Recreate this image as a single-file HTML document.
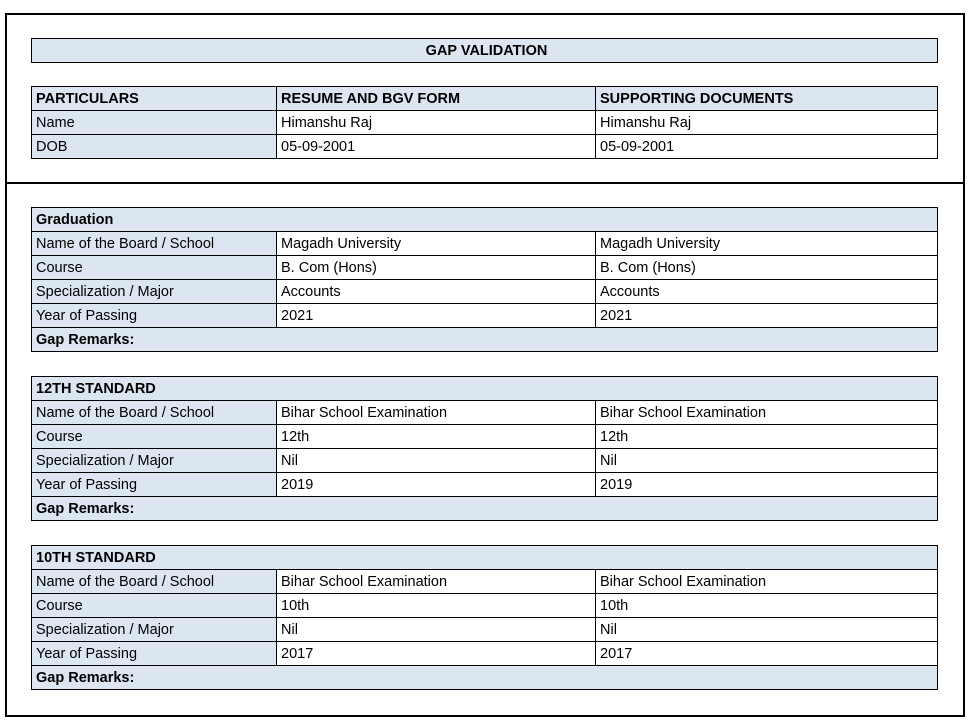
<!DOCTYPE html>
<html><head><style>
body{margin:0;width:971px;height:721px;background:#fff;position:relative;font-family:"Liberation Sans",sans-serif;font-size:14.5px;color:#000;overflow:hidden}
.b{position:absolute;box-sizing:border-box}
.c{position:absolute;box-sizing:border-box;border:1px solid #000;padding-left:4px;line-height:25px;white-space:nowrap;overflow:hidden}
.bl{background:#dce6f1}
.bo{font-weight:bold}
</style></head><body>
<div class="b" style="left:5px;top:13px;width:960px;height:704px;border:2px solid #000"></div>
<div class="b" style="left:5px;top:182px;width:960px;height:2px;background:#000"></div>
<div class="c bl bo" style="left:31px;top:38px;width:907px;height:25px;text-align:center;line-height:24px">GAP VALIDATION</div>
<div id="t"></div>
<script>
var h='';
function row(y,a,b,c,bold,full){
 var H=25;
 if(full){h+='<div class="c bl bo" style="left:31px;top:'+y+'px;width:907px;height:'+H+'px">'+a+'</div>';return;}
 var cls=bold?' bo':'';
 h+='<div class="c bl'+cls+'" style="left:31px;top:'+y+'px;width:246px;height:'+H+'px">'+a+'</div>';
 h+='<div class="c'+(bold?' bl bo':'')+'" style="left:276px;top:'+y+'px;width:320px;height:'+H+'px">'+b+'</div>';
 h+='<div class="c'+(bold?' bl bo':'')+'" style="left:595px;top:'+y+'px;width:343px;height:'+H+'px">'+c+'</div>';
}
row(86,'PARTICULARS','RESUME AND BGV FORM','SUPPORTING DOCUMENTS',true);
row(110,'Name','Himanshu Raj','Himanshu Raj');
row(134,'DOB','05-09-2001','05-09-2001');
var S=[[207,'Graduation','Magadh University','B. Com (Hons)','Accounts','2021'],
[376,'12TH STANDARD','Bihar School Examination','12th','Nil','2019'],
[545,'10TH STANDARD','Bihar School Examination','10th','Nil','2017']];
S.forEach(function(s){
 var y=s[0],d=24;
 row(y,s[1],'','',false,true);
 row(y+d,'Name of the Board / School',s[2],s[2]);
 row(y+2*d,'Course',s[3],s[3]);
 row(y+3*d,'Specialization / Major',s[4],s[4]);
 row(y+4*d,'Year of Passing',s[5],s[5]);
 row(y+5*d,'Gap Remarks:','','',false,true);
});
document.getElementById('t').innerHTML=h;
</script>
</body></html>
